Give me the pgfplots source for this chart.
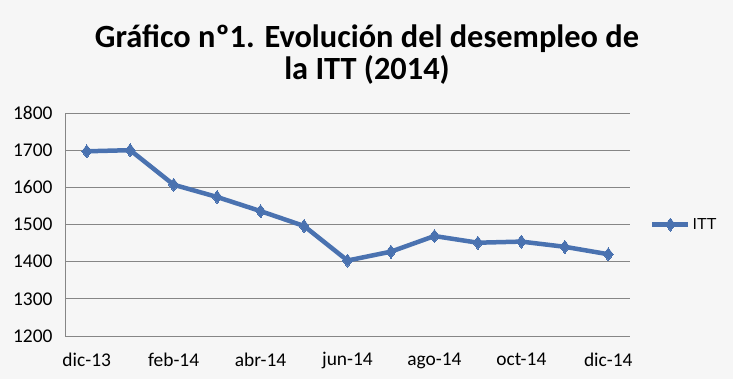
\documentclass[border=0pt]{standalone}
\usepackage{fontspec}
\setmainfont{Carlito}
\newfontfamily\arialf{Liberation Sans}
\usepackage{pgfplots}
\pgfplotsset{compat=1.18}
\definecolor{bg}{RGB}{246,246,246}
\definecolor{ser}{RGB}{74,114,176}
\definecolor{grd}{RGB}{134,134,134}
\begin{document}
\begin{tikzpicture}[x=1bp,y=1bp]
\fill[bg] (0,0) rectangle (733,379);
\useasboundingbox (0,0) rectangle (733,379);
\node[font=\bfseries\fontsize{32.5}{32}\selectfont, align=center] at (367,324) {Gráfico nº1. Evolución del desempleo de\\la ITT (2014)};
\begin{axis}[
  at={(65bp,43bp)}, anchor=south west,
  scale only axis, width=565bp, height=223bp,
  xmin=-0.5, xmax=12.5, ymin=1200, ymax=1800,
  ytick={1200,1300,...,1800},
  xtick={0,2,4,6,8,10,12},
  xticklabels={dic-13,feb-14,abr-14,jun-14,ago-14,oct-14,dic-14},
  ymajorgrids, grid style={grd, line width=0.8pt},
  axis x line*=bottom, axis y line*=left,
  axis line style={grd, line width=0.8pt, -},
  major tick length=0pt,
  tick label style={font=\fontsize{19.5}{21}\selectfont},
  /pgf/number format/assume math mode=true,
  /pgf/number format/1000 sep={},
  yticklabel style={xshift=-9bp},
  xticklabel style={yshift=-13bp},
  legend style={at={(1.03,0.5)}, anchor=west, draw=none, fill=none, font=\arialf\fontsize{16}{18}\selectfont,
    legend image code/.code={\draw[#1, mark repeat=2, mark phase=2] plot coordinates {(0bp,0bp) (18bp,0bp) (36bp,0bp)};}},
  legend cell align=left,
]
\addplot[ser, line width=4.5bp, mark=diamond*, mark size=6.5bp, mark options={line width=0pt, fill=ser}] coordinates {
(0,1697) (1,1700) (2,1607) (3,1574) (4,1536) (5,1496) (6,1403) (7,1427) (8,1469) (9,1451) (10,1454) (11,1440) (12,1420)
};
\addlegendentry{ITT}
\end{axis}
\end{tikzpicture}
\end{document}
